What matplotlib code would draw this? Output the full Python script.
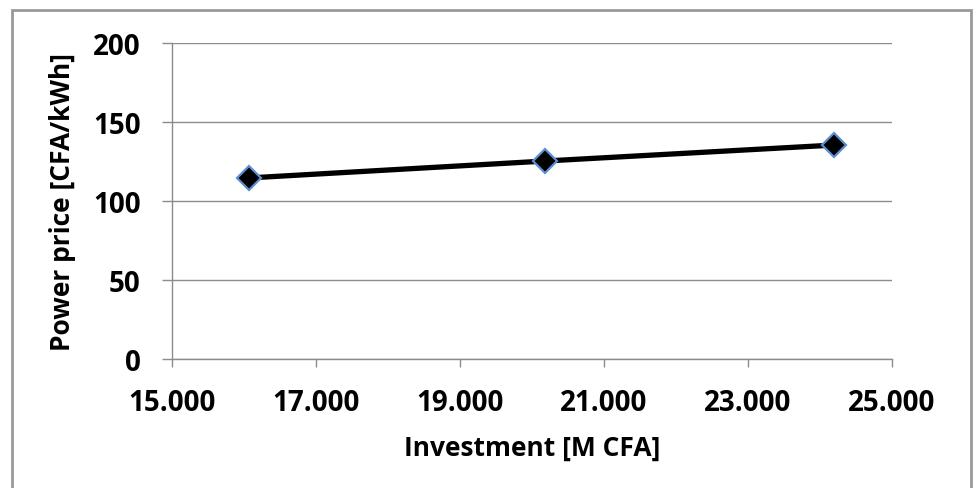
import matplotlib
matplotlib.use("Agg")
import matplotlib.pyplot as plt
from matplotlib.patches import Rectangle
from matplotlib.ticker import FuncFormatter

investment = [16.07, 20.18, 24.19]
power_price = [114.6, 125.3, 135.4]
x_ticks = [15, 17, 19, 21, 23, 25]
y_ticks = [0, 50, 100, 150, 200]

W, H = 978, 489
plt.rcParams['font.family'] = ['Open Sans', 'DejaVu Sans']
fig = plt.figure(figsize=(W / 100, H / 100), dpi=100)

# outer chart frame
fig.patches.append(Rectangle((12 / W, -0.05), (971 - 12) / W, (H - 11) / H + 0.05,
                             transform=fig.transFigure, fill=False,
                             edgecolor='#9a9a9a', linewidth=2))

ax = fig.add_axes([172 / W, 1 - 360 / H, (892 - 172) / W, (360 - 44) / H])
ax.set_xlim(15, 25)
ax.set_ylim(0, 200)
ax.set_xticks(x_ticks)
ax.set_yticks(y_ticks)
ax.xaxis.set_major_formatter(FuncFormatter(lambda v, p: f"{int(v)}.000"))

ax.yaxis.grid(True, color='#8c8c8c', linewidth=1)
ax.set_axisbelow(True)
for s in ('top', 'right'):
    ax.spines[s].set_visible(False)
for s in ('left', 'bottom'):
    ax.spines[s].set_color('#8c8c8c')
    ax.spines[s].set_linewidth(1)

ax.tick_params(axis='both', colors='#8c8c8c', labelcolor='black', width=1,
               labelsize=20, direction='out')
ax.tick_params(axis='x', length=6, pad=15)
ax.tick_params(axis='y', length=7.5, pad=15)
for lbl in ax.get_xticklabels() + ax.get_yticklabels():
    lbl.set_fontweight('bold')

ax.plot(investment, power_price, color='black', linewidth=3.8,
        marker='D', markersize=12.5, markerfacecolor='black',
        markeredgecolor='#5b8fd0', markeredgewidth=1.6, solid_capstyle='butt')

ax.set_xlabel('Investment [M CFA]', fontsize=19, fontweight='bold', labelpad=12)
ax.set_ylabel('Power price [CFA/kWh]', fontsize=19, fontweight='bold', labelpad=12)

fig.savefig('out.png', dpi=100)
